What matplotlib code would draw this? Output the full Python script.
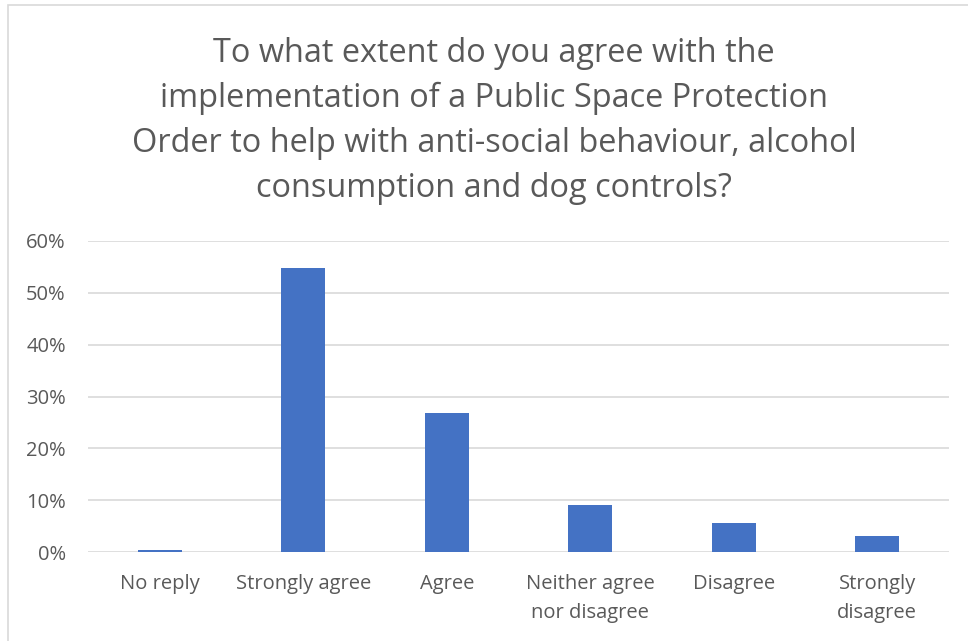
import matplotlib.pyplot as plt
from matplotlib.patches import Rectangle
from matplotlib.ticker import PercentFormatter

# data
categories = ['No reply', 'Strongly agree', 'Agree', 'Neither agree\nnor disagree',
              'Disagree', 'Strongly\ndisagree']
shares = [0.3, 54.7, 26.8, 9.1, 5.6, 3.0]
y_ticks = [0, 10, 20, 30, 40, 50, 60]

title = ('To what extent do you agree with the\n'
         'implementation of a Public Space Protection\n'
         'Order to help with anti-social behaviour, alcohol\n'
         'consumption and dog controls?')

grey = '#595959'
plt.rcParams['font.family'] = ['Open Sans', 'DejaVu Sans']

fig = plt.figure(figsize=(9.68, 6.41), dpi=100)
ax = fig.add_axes([88 / 968, 1 - 552 / 641, 861 / 968, 311 / 641])

ax.bar(range(len(categories)), shares, width=0.31, color='#4472C4', zorder=3)

ax.set_xlim(-0.5, len(categories) - 0.5)
ax.set_ylim(0, 60)
ax.set_yticks(y_ticks)
ax.yaxis.set_major_formatter(PercentFormatter(decimals=0))
ax.set_xticks(range(len(categories)))
ax.set_xticklabels(categories, linespacing=1.6)
ax.tick_params(axis='both', length=0, colors=grey, labelsize=14.5)
ax.tick_params(axis='x', pad=16)
ax.tick_params(axis='y', pad=16)
ax.grid(axis='y', color='#d9d9d9', linewidth=1.2, zorder=0)
for s in ax.spines.values():
    s.set_visible(False)

fig.text(494 / 968, 1 - 121 / 641, title, ha='center', va='center', fontsize=23.4,
         color=grey, linespacing=1.47)

# chart border
fig.patches.append(Rectangle((8 / 968, -0.01), 1.2, 1 - 5 / 641 + 0.01,
                             transform=fig.transFigure, fill=False,
                             edgecolor='#d9d9d9', linewidth=1.2))

fig.savefig('out.png', dpi=100)
